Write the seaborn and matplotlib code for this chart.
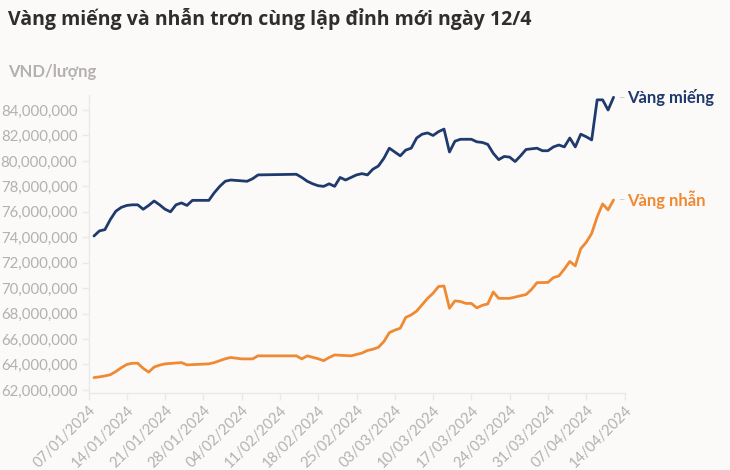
import numpy as np
import pandas as pd
import matplotlib
matplotlib.use("Agg")
import matplotlib.pyplot as plt
import matplotlib.dates as mdates
from matplotlib.ticker import FuncFormatter
import seaborn as sns

# day offsets from 07/01/2024 and prices (million VND / luong)
mieng_days = [1, 2, 3, 4, 5, 6, 7, 8, 9, 10, 11, 12, 13, 14, 15, 16, 17, 18, 19, 22,
              23, 24, 25, 26, 29, 30, 31, 38, 39, 40, 41, 42, 43, 44, 45, 46, 47, 48,
              49, 50, 51, 52, 53, 54, 55, 56, 57, 58, 59, 60, 61, 62, 63, 64, 65, 66,
              67, 68, 70, 71, 72, 73, 74, 75, 76, 77, 78, 79, 80, 82, 83, 84, 85, 86,
              87, 88, 89, 90, 91, 92, 93, 94, 95, 96]
mieng_vals = [74.1, 74.5, 74.6, 75.4, 76.05, 76.35, 76.5, 76.55, 76.55, 76.2, 76.5,
              76.85, 76.55, 76.2, 76.0, 76.55, 76.7, 76.5, 76.9, 76.9, 77.5, 78.0,
              78.4, 78.5, 78.4, 78.6, 78.9, 78.95, 78.7, 78.4, 78.2, 78.05, 78.0,
              78.2, 78.0, 78.7, 78.5, 78.7, 78.9, 79.0, 78.9, 79.35, 79.6, 80.2, 81.0,
              80.7, 80.4, 80.85, 81.0, 81.8, 82.1, 82.2, 82.0, 82.3, 82.5, 80.7,
              81.55, 81.7, 81.7, 81.5, 81.45, 81.3, 80.6, 80.1, 80.35, 80.3, 79.95,
              80.4, 80.9, 81.0, 80.8, 80.8, 81.1, 81.25, 81.1, 81.8, 81.1, 82.1,
              81.9, 81.65, 84.8, 84.8, 84.0, 85.0]

nhan_days = [1, 2, 3, 4, 5, 6, 7, 8, 9, 10, 11, 12, 13, 14, 17, 18, 22, 23, 24, 25,
             26, 28, 30, 31, 38, 39, 40, 42, 43, 44, 45, 48, 50, 51, 52, 53, 54, 55,
             56, 57, 58, 59, 60, 61, 62, 63, 64, 65, 66, 67, 68, 69, 70, 71, 72, 73,
             74, 75, 77, 79, 80, 81, 82, 84, 85, 86, 87, 88, 89, 90, 91, 92, 93, 94,
             95, 96]
nhan_vals = [62.97, 63.03, 63.1, 63.2, 63.45, 63.75, 64.0, 64.1, 64.1, 63.7, 63.4,
             63.8, 63.95, 64.05, 64.15, 63.97, 64.05, 64.15, 64.3, 64.45, 64.55,
             64.44, 64.44, 64.68, 64.68, 64.44, 64.68, 64.45, 64.3, 64.55, 64.75,
             64.68, 64.9, 65.1, 65.2, 65.35, 65.8, 66.5, 66.7, 66.85, 67.7, 67.9,
             68.2, 68.7, 69.2, 69.6, 70.13, 70.17, 68.42, 69.0, 68.95, 68.8, 68.8,
             68.45, 68.65, 68.76, 69.7, 69.2, 69.2, 69.4, 69.5, 69.9, 70.43, 70.45,
             70.83, 70.96, 71.5, 72.1, 71.75, 73.1, 73.6, 74.3, 75.6, 76.62, 76.15,
             76.93]

start = pd.Timestamp("2024-01-07")
navy = "#1f3a6d"
orange = "#ef8a33"
grey = "#b3b0af"
bg = "#fcfaf9"

df = pd.concat([
    pd.DataFrame({"date": start + pd.to_timedelta(mieng_days, unit="D"),
                  "price": np.array(mieng_vals) * 1e6, "loai": "Vàng miếng"}),
    pd.DataFrame({"date": start + pd.to_timedelta(nhan_days, unit="D"),
                  "price": np.array(nhan_vals) * 1e6, "loai": "Vàng nhẫn"}),
])

sns.set_style("white")
plt.rcParams["font.family"] = ["Lato", "DejaVu Sans"]

fig = plt.figure(figsize=(7.3, 4.7), dpi=100, facecolor=bg)
ax = fig.add_axes([88.5 / 730, 1 - 393 / 470, 536 / 730, 298 / 470])
ax.set_facecolor(bg)

sns.lineplot(data=df, x="date", y="price", hue="loai",
             palette={"Vàng miếng": navy, "Vàng nhẫn": orange},
             linewidth=2, legend=False, ax=ax)

ax.set_xlim(start, start + pd.Timedelta(days=98))
ax.set_ylim(61.76e6, 85.18e6)
ax.set_yticks(np.arange(62e6, 84.1e6, 2e6))
ax.yaxis.set_major_formatter(FuncFormatter(lambda v, p: f"{v:,.0f}"))
ax.set_xticks(pd.date_range(start, periods=15, freq="7D"))
ax.xaxis.set_major_formatter(mdates.DateFormatter("%d/%m/%Y"))
ax.set_xlabel("")
ax.set_ylabel("")

for s in ["top", "right"]:
    ax.spines[s].set_visible(False)
for s in ["left", "bottom"]:
    ax.spines[s].set_color("#ebe8e7")
    ax.spines[s].set_linewidth(1)

ax.tick_params(axis="y", colors="#ebe8e7", labelcolor=grey, labelsize=10.8,
               length=5, width=1, pad=3, direction="out", left=True)
ax.tick_params(axis="x", colors="#ebe8e7", labelcolor=grey, labelsize=10.5,
               length=5, width=1, pad=2, direction="out", bottom=True)
plt.setp(ax.get_xticklabels(), rotation=45, ha="right", rotation_mode="anchor")

# end labels
last_m = df[df.loai == "Vàng miếng"].iloc[-1]
last_n = df[df.loai == "Vàng nhẫn"].iloc[-1]
for row, col in [(last_m, navy), (last_n, orange)]:
    ax.annotate("–", (row.date, row.price), xytext=(4, 0), textcoords="offset points",
                color="#c9c6c5", fontsize=8, va="center", annotation_clip=False)
    ax.annotate(row.loai, (row.date, row.price), xytext=(10, 0),
                textcoords="offset points", color=col, fontsize=12, fontweight="bold",
                va="center", annotation_clip=False)

fig.text(8 / 730, 1 - 19 / 470, "Vàng miếng và nhẫn trơn cùng lập đỉnh mới ngày 12/4",
         fontsize=14, fontweight="bold", color="#2e2e2e", va="center",
         family=["Open Sans", "DejaVu Sans"])
fig.text(8 / 730, 1 - 72 / 470, "VND/lượng", fontsize=12, fontweight="bold",
         color=grey, va="center")

fig.savefig("out.png", dpi=100, facecolor=bg)
